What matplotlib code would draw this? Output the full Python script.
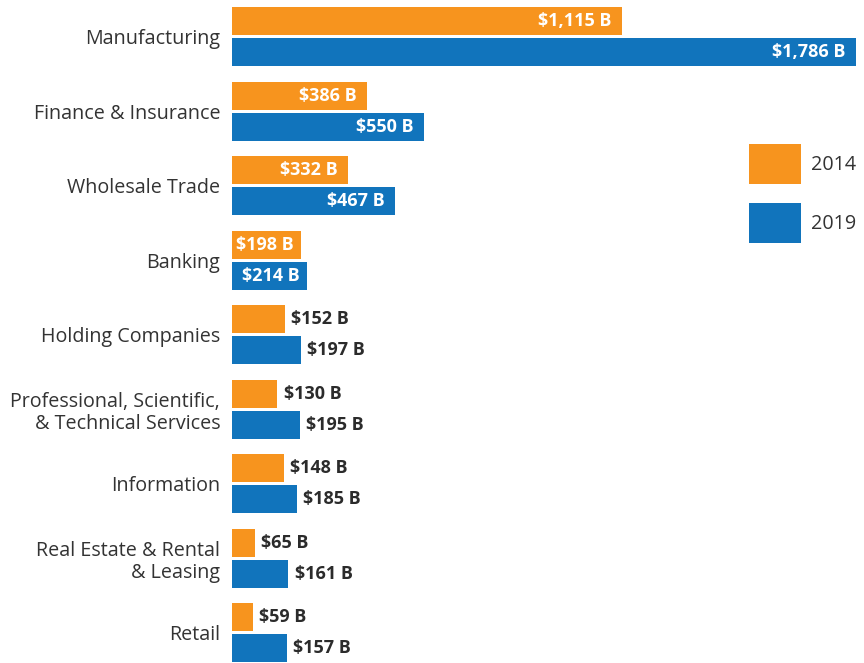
import matplotlib
matplotlib.use("Agg")
import matplotlib.pyplot as plt
import numpy as np

plt.rcParams['font.family'] = ['Open Sans', 'DejaVu Sans']

categories = ["Manufacturing", "Finance & Insurance", "Wholesale Trade", "Banking",
              "Holding Companies", "Professional, Scientific,\n& Technical Services",
              "Information", "Real Estate & Rental\n& Leasing", "Retail"]
vals_2014 = [1115, 386, 332, 198, 152, 130, 148, 65, 59]
vals_2019 = [1786, 550, 467, 214, 197, 195, 185, 161, 157]
years = ["2014", "2019"]

orange = "#F7941E"
blue = "#1174BC"
dark = "#2b2b2b"

fig = plt.figure(figsize=(8.64, 6.63), dpi=100)
ax = fig.add_axes([232 / 864, 0, 632 / 864, 1])

y = np.arange(len(categories))
h = 28 / 74.5
off = 15.5 / 74.5

b1 = ax.barh(y - off, vals_2014, height=h, color=orange, label=years[0])
b2 = ax.barh(y + off, vals_2019, height=h, color=blue, label=years[1])

ax.set_xlim(0, 1786 * 632 / 624)
ax.set_ylim(8.409, -0.49)

# value labels: inside for long bars, outside for short ones
for bars, vals in [(b1, vals_2014), (b2, vals_2019)]:
    for bar, v in zip(bars, vals):
        yc = bar.get_y() + bar.get_height() / 2
        txt = "${:,} B".format(v)
        if v >= 198:
            pad = 5 if v < 250 else 7.5
            ax.annotate(txt, (v, yc), xytext=(-pad, 0), textcoords="offset points",
                        ha="right", va="center", color="white", fontsize=13,
                        fontweight="bold")
        else:
            ax.annotate(txt, (v, yc), xytext=(4.5, 0), textcoords="offset points",
                        ha="left", va="center", color=dark, fontsize=13,
                        fontweight="bold")

ax.set_yticks(y)
ax.set_yticklabels(categories, fontsize=14.2, color="#333333", linespacing=1.15)
ax.tick_params(axis="y", length=0, pad=8.5)
ax.set_xticks([])
for s in ax.spines.values():
    s.set_visible(False)

leg = ax.legend(loc="upper left", bbox_to_anchor=(749 / 864, 1 - 144 / 663),
                bbox_transform=fig.transFigure, frameon=False, fontsize=14.2,
                handlelength=2.65, handleheight=2.75, handletextpad=0.5,
                labelspacing=0.97, borderpad=0, borderaxespad=0)
for t in leg.get_texts():
    t.set_color("#333333")

fig.savefig("out.png", dpi=100)
